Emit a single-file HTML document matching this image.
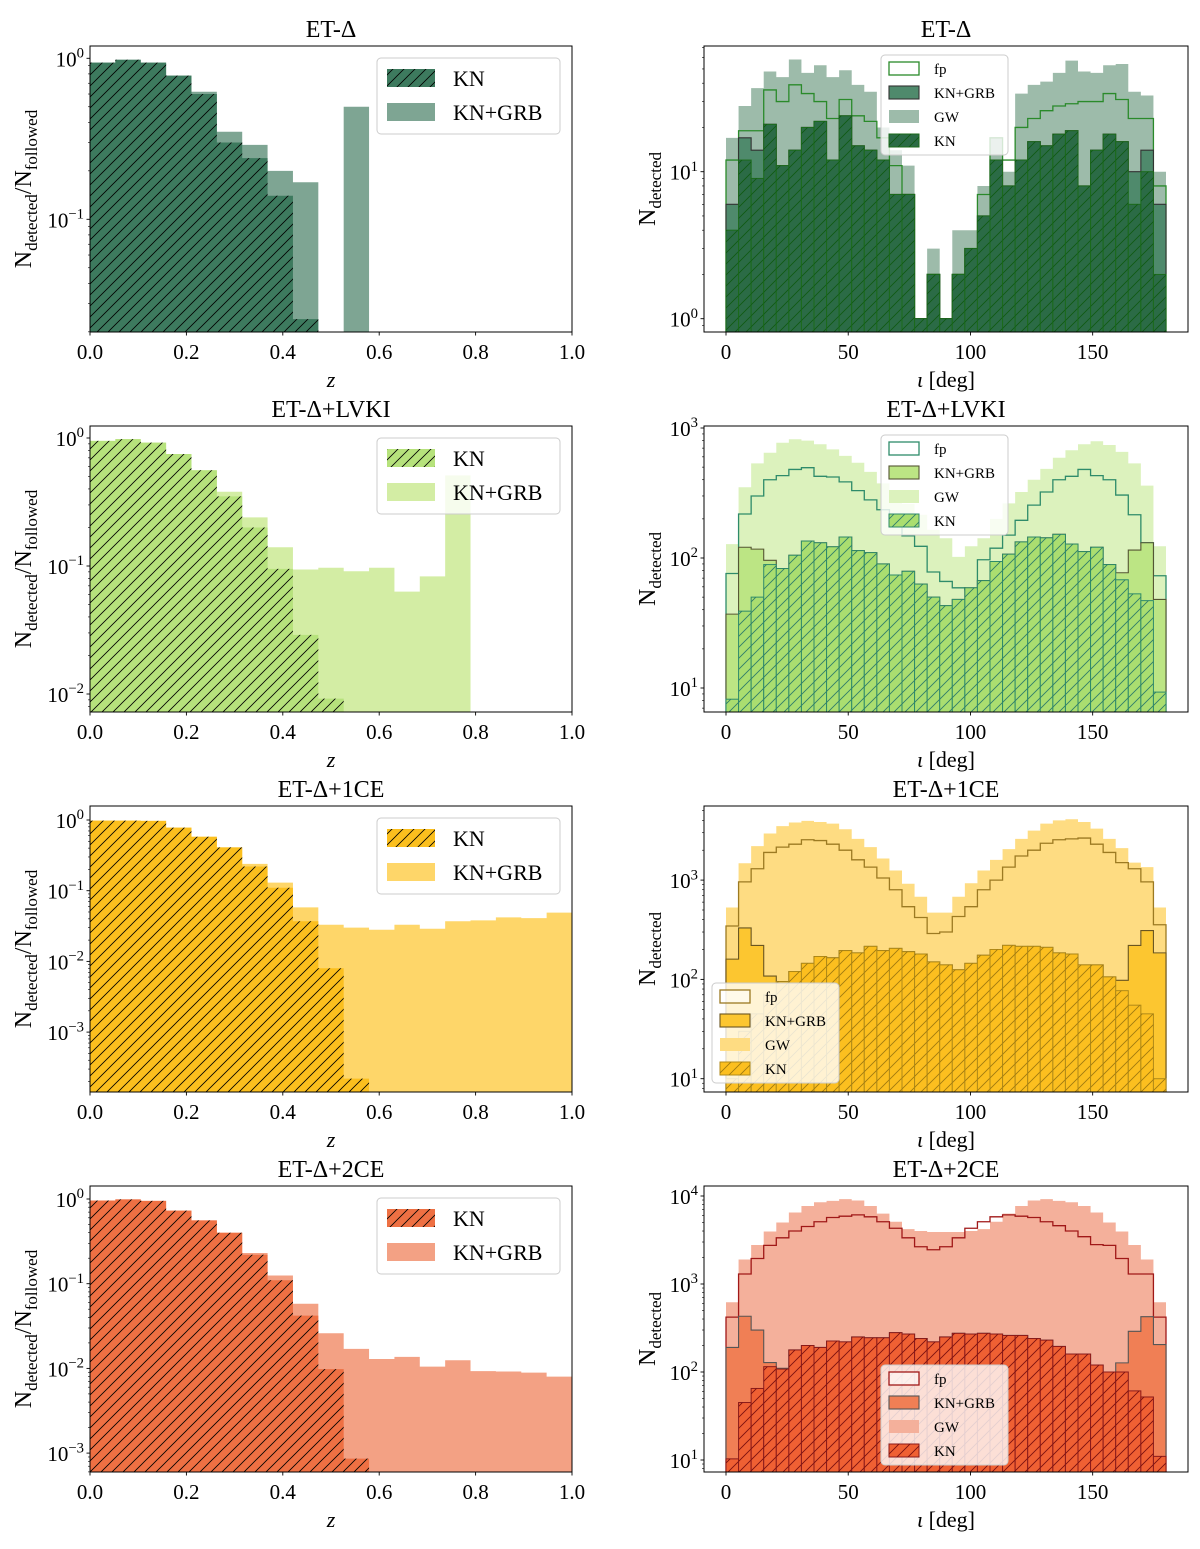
<!DOCTYPE html>
<html><head><meta charset="utf-8"><style>
body{margin:0;background:#fff}
svg{display:block;font-family:"Liberation Serif",serif}
</style></head><body>
<svg id="fig" width="1200" height="1549" viewBox="0 0 1200 1549" xmlns="http://www.w3.org/2000/svg">
<defs>
<pattern id="hk" patternUnits="userSpaceOnUse" width="11" height="11"><path d="M-1,1 l2,-2 M0,11 l11,-11 M10,12 l2,-2" stroke="#000" stroke-width="0.8"/></pattern>
<pattern id="h1" patternUnits="userSpaceOnUse" width="11" height="11"><path d="M-1,1 l2,-2 M0,11 l11,-11 M10,12 l2,-2" stroke="#0f5a14" stroke-width="0.9"/></pattern>
<pattern id="h2" patternUnits="userSpaceOnUse" width="11" height="11"><path d="M-1,1 l2,-2 M0,11 l11,-11 M10,12 l2,-2" stroke="#2e7d6a" stroke-width="0.9"/></pattern>
<pattern id="h3" patternUnits="userSpaceOnUse" width="11" height="11"><path d="M-1,1 l2,-2 M0,11 l11,-11 M10,12 l2,-2" stroke="#a07a10" stroke-width="0.9"/></pattern>
<pattern id="h4" patternUnits="userSpaceOnUse" width="11" height="11"><path d="M-1,1 l2,-2 M0,11 l11,-11 M10,12 l2,-2" stroke="#7a1010" stroke-width="0.9"/></pattern>
</defs>
</svg>
<script>
// ---- data: left panels (z bins, 19 bins over 0..1) ----
const zTicks = ["0.0","0.2","0.4","0.6","0.8","1.0"];
const iotaTicks = ["0","50","100","150"];
const L1_kn = [0.94,0.98,0.94,0.78,0.60,0.30,0.24,0.14,0.024,0,0,0,0,0,0,0,0,0,0];
const L1_kngrb = [0.94,0.98,0.94,0.78,0.62,0.35,0.29,0.20,0.17,0,0.50,0,0,0,0,0,0,0,0];
const L2_kn = [0.95,0.98,0.92,0.75,0.56,0.35,0.20,0.095,0.029,0.0092,0,0,0,0,0,0,0,0,0];
const L2_kngrb = [0.95,0.98,0.92,0.75,0.56,0.38,0.24,0.14,0.094,0.097,0.091,0.097,0.063,0.083,0.51,0,0,0,0];
const L3_kn = [0.98,0.98,0.97,0.78,0.58,0.41,0.22,0.11,0.037,0.008,0.00022,0,0,0,0,0,0,0,0];
const L3_kngrb = [0.98,0.98,0.97,0.78,0.58,0.41,0.24,0.13,0.058,0.033,0.030,0.028,0.033,0.029,0.037,0.038,0.042,0.041,0.049];
const L4_kn = [0.96,0.99,0.95,0.73,0.56,0.40,0.22,0.11,0.042,0.0098,0.00086,0,0,0,0,0,0,0,0];
const L4_kngrb = [0.96,0.99,0.95,0.73,0.56,0.40,0.23,0.125,0.058,0.026,0.017,0.0129,0.0137,0.0105,0.0125,0.0093,0.0092,0.0089,0.0080];
// ---- data: right panels (inclination bins, 35 bins over 0..180 deg) ----
const R1_kn = [4,12,9,21,11,14,20,22,12,24,15,14,12,7,7,1,2,1,2,3,5,12,8,12,16,15,18,19,8,14,18,16,6,10,2];
const R1_kngrb = [6,17,14,21,11,14,20,22,12,24,15,14,12,7,7,1,2,1,2,3,5,12,8,12,16,15,18,19,8,14,18,16,10,14,6];
const R1_gw = [17,28,37,48,44,58,47,53,44,49,39,35,20,14,11,1,3,1,4,4,8,17,10,34,39,41,47,57,48,47,53,54,35,33,10];
const R1_fp = [12,19,19,36,30,39,34,30,23,31,24,22,17,11,7,1,2,1,2,3,7,17,12,20,23,26,28,29,30,30,34,31,23,23,8];
const R2_kn = [8.2,39,50,89,83,105,135,131,122,145,114,110,90,74,79,63,50,43,48,59,67,94,107,133,145,143,152,128,112,121,89,68,53,47,9.3];
const R2_kngrb = [37,121,117,96,83,105,135,131,122,145,114,110,90,74,79,63,50,43,48,59,67,94,107,133,145,143,152,128,112,121,89,77,115,131,48];
const R2_gw = [128,350,535,645,770,820,800,750,685,610,540,460,375,315,260,215,165,142,102,123,142,200,263,322,400,485,590,675,750,790,740,655,535,360,123];
const R2_fp = [76,218,300,400,430,480,495,425,420,385,330,280,235,175,148,123,78,66,59,57,97,119,150,195,255,322,400,425,480,430,400,305,215,131,73];
const R3_kn = [10,30,45,70,95,120,145,170,165,195,185,215,195,205,190,180,150,140,125,145,175,200,220,215,215,210,185,180,140,140,106,77,55,45,10];
const R3_kngrb = [160,330,220,108,95,120,145,170,165,195,185,215,195,205,190,180,150,140,125,145,175,200,220,215,215,210,185,180,140,140,106,98,220,310,185];
const R3_gw = [530,1480,2200,2950,3500,3800,3950,3850,3700,3250,2600,2150,1650,1250,920,680,470,470,680,930,1250,1600,2050,2600,3150,3700,4000,4100,3850,3300,2600,2100,1500,1350,530];
const R3_fp = [345,960,1300,1900,2150,2300,2550,2500,2300,2000,1600,1350,1050,800,540,420,290,300,430,540,800,1000,1350,1750,2000,2350,2550,2600,2650,2300,1900,1500,1300,960,355];
const R4_kn = [10.3,45,65,115,108,178,200,190,225,220,250,245,245,280,270,240,220,250,275,270,275,270,260,260,240,230,195,160,160,120,100,100,61,52,11];
const R4_kngrb = [190,430,300,128,110,178,200,190,225,220,250,245,245,280,270,240,220,250,275,270,275,270,260,260,240,230,195,160,160,120,100,127,290,425,205];
const R4_gw = [620,1900,2770,3950,5000,6500,7700,8500,8800,9200,8900,7700,6300,5100,4200,4000,3900,3900,3900,4000,4200,5100,6300,7700,8900,9200,8800,8500,7700,6500,5000,3950,2770,1900,620];
const R4_fp = [420,1300,1950,2750,3350,4000,4500,5100,5700,5900,6100,5800,5100,4300,3350,2650,2450,2650,3350,4300,5100,5800,6100,5900,5700,5100,4600,4000,3450,2800,2750,1950,1300,1300,420];

const NS = "http://www.w3.org/2000/svg";
const svg = document.getElementById('fig');
function mk(tag, attrs, parent){
  const e = document.createElementNS(NS, tag);
  for (const k in attrs) e.setAttribute(k, attrs[k]);
  (parent||svg).appendChild(e);
  return e;
}
const L = {x0:90, x1:572};
const R = {x0:704, x1:1188, d0:726, d1:1166};
const rowTop = [46, 426, 806, 1186];
const H = 286;
const titles = ["ET-Δ","ET-Δ+LVKI","ET-Δ+1CE","ET-Δ+2CE"];
const leftScales = [{ref:58.3,lr:0,ppd:161},{ref:438,lr:0,ppd:128},{ref:820,lr:0,ppd:70.7},{ref:1199,lr:0,ppd:84.7}];
const rightScales = [{ref:318.7,lr:0,ppd:147},{ref:688,lr:1,ppd:130},{ref:1078.7,lr:1,ppd:99.3},{ref:1460,lr:1,ppd:88}];
const leftDec = [[0,-1],[0,-1,-2],[0,-1,-2,-3],[0,-1,-2,-3]];
const rightDec = [[0,1],[1,2,3],[1,2,3],[1,2,3,4]];
const leftKN = [L1_kn,L2_kn,L3_kn,L4_kn];
const leftKG = [L1_kngrb,L2_kngrb,L3_kngrb,L4_kngrb];
const rightKN = [R1_kn,R2_kn,R3_kn,R4_kn];
const rightKG = [R1_kngrb,R2_kngrb,R3_kngrb,R4_kngrb];
const rightGW = [R1_gw,R2_gw,R3_gw,R4_gw];
const rightFP = [R1_fp,R2_fp,R3_fp,R4_fp];
const colL = [{kn:"#3d7a5e",kg:"#7ea593"},{kn:"#b6e27c",kg:"#d3eda4"},{kn:"#fbbf1e",kg:"#fed669"},{kn:"#ee7043",kg:"#f3a184"}];
const colR = [
 {gw:"#9dbbaa",kg:"#4f8a6c",kgE:"#333",kn:"#2b6b46",knE:"#1b6b1b",hat:"url(#h1)",fp:"#2a8a2a"},
 {gw:"#dcf2bd",kg:"#bce584",kgE:"#555533",kn:"#aade70",knE:"#2e8b6a",hat:"url(#h2)",fp:"#2e8b6a"},
 {gw:"#fedc82",kg:"#fcc630",kgE:"#6a5520",kn:"#fcbf1f",knE:"#b08a18",hat:"url(#h3)",fp:"#9c7a22"},
 {gw:"#f4b09b",kg:"#f07f55",kgE:"#555",kn:"#ef6033",knE:"#8b1a1a",hat:"url(#h4)",fp:"#a01818"}];

function ymapF(s, top){ return v => { let y = s.ref - s.ppd*(Math.log10(v)-s.lr); return Math.max(top, Math.min(top+H, y)); }; }

function stepPath(vals, xf, yf, bot){
  let d = "";
  for (let i=0;i<vals.length;i++){
    if (!(vals[i]>0)) continue;
    const xa = xf(i), xb = xf(i+1), y = yf(vals[i]);
    d += `M${xa},${bot}L${xa},${y}L${xb},${y}L${xb},${bot}Z`;
  }
  return d;
}
function stepLine(vals, xf, yf, bot){
  let d = `M${xf(0)},${bot}`;
  for (let i=0;i<vals.length;i++){
    const y = vals[i]>0 ? yf(vals[i]) : bot;
    d += `L${xf(i)},${y}L${xf(i+1)},${y}`;
  }
  d += `L${xf(vals.length)},${bot}`;
  return d;
}
function supLabel(g, x, y, exp, anchor, size){
  const t = mk('text',{x:x,y:y,'text-anchor':anchor,'font-size':size,fill:'#000'},g);
  t.textContent = "10";
  const s = mk('tspan',{dy:-size*0.42,'font-size':size*0.7},t);
  s.textContent = exp<0 ? "−"+(-exp) : String(exp);
  return t;
}
function axisFrame(g, x0, x1, top){
  const r = mk('rect',{x:x0,y:top,width:x1-x0,height:H,fill:'none',stroke:'#000','stroke-width':1},g);
  
  
}
function yTicks(g, x0, top, yf, decs, size){
  const minD = Math.min(...decs)-1, maxD = Math.max(...decs)+1;
  for (let d=minD; d<=maxD; d++){
    for (let m=1;m<10;m++){
      const v = m*Math.pow(10,d);
      const yy = yf(v);
      if (yy<=top || yy>=top+H) continue;
      mk('line',{x1:x0,x2:x0-(m===1?3.5:2),y1:yy,y2:yy,stroke:'#000','stroke-width':m===1?0.9:0.6},g);
    }
  }
  decs.forEach(d=>{
    const t = supLabel(g, x0-6, yf(Math.pow(10,d))+8, d, 'end', size);
    
    
  });
}

for (let r=0;r<4;r++){
  const top = rowTop[r], bot = top+H;
  // ---------- left panel ----------
  const gl = mk('g',{});
  
  
  const sL = leftScales[r];
  const yl = ymapF(sL, top);
  const xl = i => L.x0 + (L.x1-L.x0)*(i/19);
  const pkg = mk('path',{d:stepPath(leftKG[r],xl,yl,bot),fill:colL[r].kg},gl);
  
  
  const pkn = mk('path',{d:stepPath(leftKN[r],xl,yl,bot),fill:colL[r].kn},gl);
  
  
  mk('path',{d:stepPath(leftKN[r],xl,yl,bot),fill:'url(#hk)'},gl);
  axisFrame(gl, L.x0, L.x1, top);
  zTicks.forEach((lab,i)=>{
    const x = L.x0 + (L.x1-L.x0)*(i/5);
    mk('line',{x1:x,x2:x,y1:bot,y2:bot+3.5,stroke:'#000','stroke-width':0.9},gl);
    const t = mk('text',{x:x,y:bot+27,'text-anchor':'middle','font-size':21},gl);
    t.textContent = lab;
    
    
  });
  yTicks(gl, L.x0, top, yl, leftDec[r], 21);
  const xt = mk('text',{x:331,y:bot+55,'text-anchor':'middle','font-size':22,'font-style':'italic'},gl);
  xt.textContent = "z";
  
  
  const yt = mk('text',{transform:`translate(31,${top+H/2}) rotate(-90)`,'text-anchor':'middle','font-size':24},gl);
  
  
  yt.appendChild(document.createTextNode("N"));
  let s1 = mk('tspan',{'font-size':17,dy:6},yt); s1.textContent="detected";
  let s2 = mk('tspan',{'font-size':24,dy:-6},yt); s2.textContent="/N";
  let s3 = mk('tspan',{'font-size':17,dy:6},yt); s3.textContent="followed";
  const tl = mk('text',{x:331,y:top-9,'text-anchor':'middle','font-size':24},gl);
  tl.textContent = titles[r];
  
  
  // left legend
  const lg = mk('g',{},gl);
  
  
  const ly = top+12;
  mk('rect',{x:377,y:ly,width:183,height:76,rx:4,fill:'#fff','fill-opacity':0.8,stroke:'#ccc'},lg);
  mk('rect',{x:387,y:ly+11,width:48,height:18,fill:colL[r].kn},lg);
  mk('rect',{x:387,y:ly+11,width:48,height:18,fill:'url(#hk)'},lg);
  mk('rect',{x:387,y:ly+45,width:48,height:18,fill:colL[r].kg},lg);
  const e1 = mk('text',{x:453,y:ly+28,'font-size':22},lg); e1.textContent="KN";
  
  
  const e2 = mk('text',{x:453,y:ly+62,'font-size':22},lg); e2.textContent="KN+GRB";
  
  

  // ---------- right panel ----------
  const gr = mk('g',{});
  
  
  const sR = rightScales[r];
  const yr = ymapF(sR, top);
  const xr = i => R.d0 + (R.d1-R.d0)*(i/35);
  const c = colR[r];
  const pgw = mk('path',{d:stepPath(rightGW[r],xr,yr,bot),fill:c.gw},gr);
  
  
  const pfp = mk('path',{d:stepLine(rightFP[r],xr,yr,bot),fill:'none',stroke:c.fp,'stroke-width':1.3},gr);
  
  
  const pkg2 = mk('path',{d:stepPath(rightKG[r],xr,yr,bot),fill:c.kg},gr);
  
  
  mk('path',{d:stepLine(rightKG[r],xr,yr,bot),fill:'none',stroke:c.kgE,'stroke-width':1.1},gr);
  rightKN[r].forEach((v,i)=>{
    if (!(v>0)) return;
    const y = yr(v);
    const b = mk('rect',{x:xr(i),y:y,width:xr(i+1)-xr(i),height:bot-y,fill:c.kn,stroke:c.knE,'stroke-width':1},gr);
    
    
    mk('rect',{x:xr(i),y:y,width:xr(i+1)-xr(i),height:bot-y,fill:c.hat},gr);
  });
  axisFrame(gr, R.x0, R.x1, top);
  iotaTicks.forEach(lab=>{
    const x = R.d0 + (R.d1-R.d0)*(Number(lab)/180);
    mk('line',{x1:x,x2:x,y1:bot,y2:bot+3.5,stroke:'#000','stroke-width':0.9},gr);
    const t = mk('text',{x:x,y:bot+27,'text-anchor':'middle','font-size':21},gr);
    t.textContent = lab;
    
    
  });
  yTicks(gr, R.x0, top, yr, rightDec[r], 21);
  const xt2 = mk('text',{x:946,y:bot+55,'text-anchor':'middle','font-size':22},gr);
  
  
  const it = mk('tspan',{'font-style':'italic'},xt2); it.textContent="ι";
  const it2 = mk('tspan',{},xt2); it2.textContent=" [deg]";
  const yt2 = mk('text',{transform:`translate(655,${top+H/2}) rotate(-90)`,'text-anchor':'middle','font-size':24},gr);
  
  
  yt2.appendChild(document.createTextNode("N"));
  const ss = mk('tspan',{'font-size':17,dy:6},yt2); ss.textContent="detected";
  const tr = mk('text',{x:946,y:top-9,'text-anchor':'middle','font-size':24},gr);
  tr.textContent = titles[r];
  
  
  // right legend
  const lx = (r===2) ? 712 : 881;
  const lyy = (r===2) ? 983 : (r===3 ? 1365 : top+9);
  const rg = mk('g',{},gr);
  
  
  mk('rect',{x:lx,y:lyy,width:127,height:100,rx:4,fill:'#fff','fill-opacity':0.8,stroke:'#ccc'},rg);
  const names = ["fp","KN+GRB","GW","KN"];
  names.forEach((n,k)=>{
    const py = lyy+7+k*24;
    if (k===0) mk('rect',{x:lx+8,y:py,width:30,height:13,fill:'#fff','fill-opacity':0.5,stroke:c.fp,'stroke-width':1.3},rg);
    if (k===1) mk('rect',{x:lx+8,y:py,width:30,height:13,fill:c.kg,stroke:c.kgE,'stroke-width':1.1},rg);
    if (k===2) mk('rect',{x:lx+8,y:py,width:30,height:13,fill:c.gw},rg);
    if (k===3){ mk('rect',{x:lx+8,y:py,width:30,height:13,fill:c.kn,stroke:c.knE},rg); mk('rect',{x:lx+8,y:py,width:30,height:13,fill:c.hat},rg); }
    const t = mk('text',{x:lx+53,y:py+12,'font-size':15},rg);
    t.textContent = n;
    
    
  });
}
</script>
</body></html>
